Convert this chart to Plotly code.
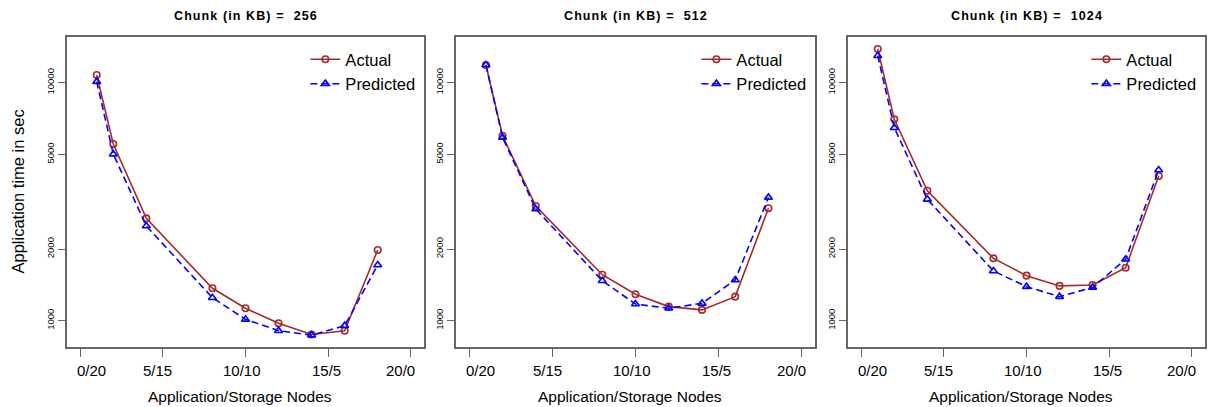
import plotly.graph_objects as go

# ---- data ----
chunk_sizes = [256, 512, 1024]
x_nodes = [1, 2, 4, 8, 10, 12, 14, 16, 18]
actual_256 = [10770, 5525, 2692, 1368, 1128, 975, 875, 908, 1982]
pred_256 = [10100, 5010, 2500, 1249, 1013, 908, 870, 953, 1714]
actual_512 = [11870, 5986, 3034, 1560, 1291, 1146, 1110, 1262, 2967]
pred_512 = [11870, 5890, 2946, 1472, 1175, 1128, 1183, 1483, 3296]
actual_1024 = [13860, 7015, 3515, 1828, 1546, 1400, 1413, 1670, 4056]
pred_1024 = [12985, 6470, 3235, 1618, 1390, 1262, 1380, 1812, 4295]

x_ticks = [0, 5, 10, 15, 20]
x_tick_labels = ["0/20", "5/15", "10/10", "15/5", "20/0"]
x_label_pos = [0.66, 4.7, 9.76, 14.88, 19.4]
y_ticks = [1000, 2000, 5000, 10000]
y_tick_labels = ["1000", "2000", "5000", "10000"]

actual = [actual_256, actual_512, actual_1024]
pred = [pred_256, pred_512, pred_1024]

W, H = 1210, 407
FONT = "Liberation Sans, Arial, sans-serif"
FRAME = "#666666"
RED = "#A52A2A"
BLUE = "#0000FF"

# panel boxes in pixels
boxes_x = [(67, 424), (456, 815), (848, 1205)]
box_top, box_bottom = 37, 347
ydom = [1 - box_bottom / H, 1 - box_top / H]

fig = go.Figure()
legend_names = ["legend", "legend2", "legend3"]

for i in range(3):
    xa = "x" if i == 0 else f"x{i+1}"
    ya = "y" if i == 0 else f"y{i+1}"
    leg = legend_names[i]
    fig.add_trace(go.Scatter(
        x=x_nodes, y=actual[i], mode="lines+markers", name="Actual",
        xaxis=xa, yaxis=ya, legend=leg,
        line=dict(color=RED, width=1.6),
        marker=dict(symbol="circle-open", size=6.5, color=RED, line=dict(width=1.6)),
    ))
    fig.add_trace(go.Scatter(
        x=x_nodes, y=pred[i], mode="lines+markers", name="Predicted",
        xaxis=xa, yaxis=ya, legend=leg,
        line=dict(color=BLUE, width=1.6, dash="7px,4px"),
        marker=dict(symbol="triangle-up-open", size=7, color=BLUE, line=dict(width=1.6)),
    ))

layout = dict(
    width=W, height=H,
    margin=dict(l=0, r=0, t=0, b=0, autoexpand=False),
    paper_bgcolor="white", plot_bgcolor="white",
    font=dict(family=FONT, color="black"),
    annotations=[],
)

for i in range(3):
    x0, x1 = boxes_x[i]
    xdom = [x0 / W, x1 / W]
    sfx = "" if i == 0 else str(i + 1)
    ya = "y" if i == 0 else f"y{i+1}"
    xa = "x" if i == 0 else f"x{i+1}"
    layout["xaxis" + sfx] = dict(
        domain=xdom, anchor=ya, range=[-0.8, 20.8],
        tickvals=x_ticks, showticklabels=False,
        ticks="outside", ticklen=8, tickwidth=1.3, tickcolor=FRAME,
        showline=True, mirror=True, linecolor=FRAME, linewidth=1.6,
        showgrid=False, zeroline=False, automargin=False,
    )
    layout["yaxis" + sfx] = dict(
        domain=ydom, anchor=xa, type="log", range=[2.8895, 4.192],
        tickvals=y_ticks, ticktext=y_tick_labels, tickangle=-90,
        tickfont=dict(size=9.5),
        ticks="outside", ticklen=7, tickwidth=1.3, tickcolor=FRAME,
        showline=True, mirror=True, linecolor=FRAME, linewidth=1.6,
        showgrid=False, zeroline=False, automargin=False,
    )
    layout[legend_names[i]] = dict(
        x=x1 / W - 0.003, y=1 - 42 / H, xanchor="right", yanchor="top",
        bgcolor="rgba(0,0,0,0)", font=dict(size=16.5), tracegroupgap=0,
        itemwidth=30,
    )
    # x tick labels (drawn slightly off the tick marks as in the source)
    for pos, lab in zip(x_label_pos, x_tick_labels):
        layout["annotations"].append(dict(
            text=lab, x=pos, xref=xa, y=1 - 370.5 / H, yref="paper",
            showarrow=False, font=dict(size=15), xanchor="center", yanchor="middle",
        ))
    # x axis title
    layout["annotations"].append(dict(
        text="Application/Storage Nodes",
        x=((x0 + x1) / 2 - 6) / W, y=1 - 396 / H, xref="paper", yref="paper",
        showarrow=False, font=dict(size=15.5), xanchor="center", yanchor="middle",
    ))
    # panel title
    layout["annotations"].append(dict(
        text=f"<b><span style='letter-spacing:1.1px'>Chunk (in KB) =  {chunk_sizes[i]}</span></b>",
        x=(x0 + x1) / 2 / W, y=1 - 16 / H, xref="paper", yref="paper",
        showarrow=False, font=dict(size=12.5), xanchor="center", yanchor="middle",
    ))

layout["annotations"].append(dict(
    text="Application time in sec", textangle=-90,
    x=17 / W, y=1 - 191.5 / H, xref="paper", yref="paper",
    showarrow=False, font=dict(size=16.5), xanchor="center", yanchor="middle",
))

fig.update_layout(**layout)
fig.write_html("out.html", config={"displayModeBar": False},
               post_script="document.body.style.margin='0';")
